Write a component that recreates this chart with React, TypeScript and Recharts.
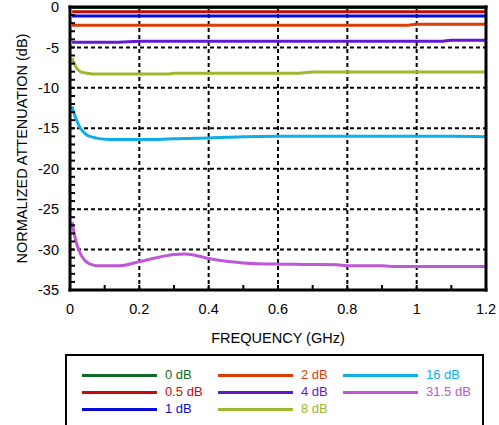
import React from "react";
import { LineChart, Line, XAxis, YAxis, CartesianGrid, Legend } from "recharts";

// frequency points (GHz) shared by every trace
const freqGHz = [
  0.006, 0.012, 0.02, 0.03, 0.04, 0.05, 0.065, 0.08, 0.1, 0.14, 0.2, 0.25, 0.28, 0.3, 0.33, 0.36,
  0.4, 0.45, 0.5, 0.6, 0.65, 0.7, 0.77, 0.8, 0.9, 0.94, 0.97, 1.0, 1.07, 1.1, 1.2,
];

// normalized attenuation (dB) per state
const att0dB = [
  -0.05, -0.05, -0.05, -0.05, -0.05, -0.05, -0.05, -0.05, -0.05, -0.05, -0.05, -0.05, -0.05, -0.05, -0.05, -0.05,
  -0.05, -0.05, -0.05, -0.05, -0.05, -0.05, -0.05, -0.05, -0.05, -0.05, -0.05, -0.05, -0.05, -0.05, -0.05,
];
const att05dB = [
  -0.6, -0.6, -0.6, -0.6, -0.6, -0.6, -0.6, -0.6, -0.6, -0.6, -0.6, -0.6, -0.6, -0.6, -0.6, -0.6,
  -0.6, -0.6, -0.6, -0.6, -0.6, -0.6, -0.6, -0.6, -0.6, -0.6, -0.6, -0.6, -0.6, -0.6, -0.6,
];
const att1dB = [
  -1.1, -1.1, -1.1, -1.1, -1.1, -1.1, -1.1, -1.1, -1.1, -1.1, -1.1, -1.1, -1.1, -1.1, -1.1, -1.1,
  -1.1, -1.1, -1.1, -1.1, -1.1, -1.1, -1.1, -1.1, -1.1, -1.1, -1.1, -1.1, -1.1, -1.1, -1.1,
];
const att2dB = [
  -2.25, -2.25, -2.25, -2.25, -2.25, -2.25, -2.25, -2.25, -2.25, -2.25, -2.25, -2.25, -2.25, -2.25, -2.25, -2.25,
  -2.25, -2.25, -2.25, -2.25, -2.25, -2.25, -2.25, -2.25, -2.25, -2.25, -2.25, -2.12, -2.12, -2.12, -2.12,
];
const att4dB = [
  -4.35, -4.35, -4.35, -4.35, -4.35, -4.35, -4.35, -4.35, -4.35, -4.35, -4.25, -4.25, -4.25, -4.25, -4.25, -4.25,
  -4.25, -4.25, -4.25, -4.25, -4.25, -4.25, -4.25, -4.25, -4.25, -4.25, -4.25, -4.25, -4.25, -4.12, -4.12,
];
const att8dB = [
  -6.3, -7.0, -7.6, -8.0, -8.12, -8.2, -8.28, -8.3, -8.3, -8.3, -8.3, -8.3, -8.3, -8.2, -8.2, -8.2,
  -8.2, -8.2, -8.2, -8.2, -8.2, -8.05, -8.05, -8.05, -8.05, -8.05, -8.05, -8.05, -8.05, -8.05, -8.05,
];
const att16dB = [
  -12.3, -13.2, -14.1, -15.0, -15.5, -15.85, -16.1, -16.25, -16.35, -16.4, -16.4, -16.38, -16.33, -16.3, -16.27, -16.23,
  -16.2, -16.12, -16.05, -16.0, -16.0, -16.0, -16.0, -16.0, -16.0, -16.0, -16.0, -16.0, -16.0, -16.0, -16.05,
];
const att315dB = [
  -26.6, -28.0, -29.4, -30.5, -31.2, -31.6, -31.9, -32.0, -32.0, -32.0, -31.5, -31.0, -30.75, -30.62, -30.55, -30.7,
  -31.1, -31.45, -31.65, -31.8, -31.82, -31.85, -31.88, -32.0, -32.0, -32.1, -32.1, -32.1, -32.1, -32.1, -32.1,
];

const seriesNames = ["0 dB", "0.5 dB", "1 dB", "2 dB", "4 dB", "8 dB", "16 dB", "31.5 dB"];
const seriesKeys = ["s0", "s05", "s1", "s2", "s4", "s8", "s16", "s315"];
const seriesColors = ["#0f6b24", "#c80a0a", "#0a0ad8", "#dc3c05", "#6418d2", "#9bb82e", "#0eaee6", "#c057d8"];
const seriesValues = [att0dB, att05dB, att1dB, att2dB, att4dB, att8dB, att16dB, att315dB];

const xMajorTicks = [0, 0.2, 0.4, 0.6, 0.8, 1, 1.2];
const xAllTicks = [0, 0.1, 0.2, 0.3, 0.4, 0.5, 0.6, 0.7, 0.8, 0.9, 1, 1.1, 1.2];
const yMajorTicks = [0, -5, -10, -15, -20, -25, -30, -35];
const yAllTicks = [
  0, -1, -2, -3, -4, -5, -6, -7, -8, -9, -10, -11, -12, -13, -14, -15, -16, -17, -18,
  -19, -20, -21, -22, -23, -24, -25, -26, -27, -28, -29, -30, -31, -32, -33, -34, -35,
];

const chartData = freqGHz.map((f, i) => {
  const row: { [k: string]: number } = { f };
  seriesKeys.forEach((k, j) => {
    row[k] = seriesValues[j][i];
  });
  return row;
});

const FONT = '"Liberation Sans", Arial, Helvetica, sans-serif';
const frame = { stroke: "#000", strokeWidth: 3, strokeLinecap: "square" as const };
const minorTick = { stroke: "#000", strokeWidth: 2 };

const isIn = (v: number, list: number[]) => list.some((m) => Math.abs(m - v) < 1e-6);

const LegendBox = () => {
  const lineLeft = [17, 153, 278];
  const textLeft = [100, 236, 361];
  const rowY = [21, 38, 55];
  return (
    <div
      style={{
        position: "relative",
        width: 419,
        height: 80,
        border: "2px solid #000",
        boxSizing: "border-box",
        background: "#fff",
        fontFamily: FONT,
      }}
    >
      {seriesNames.map((name, i) => {
        const col = Math.floor(i / 3);
        const row = i % 3;
        return (
          <React.Fragment key={name}>
            <div
              style={{
                position: "absolute",
                left: lineLeft[col] - 2,
                top: rowY[row] - 2 - 1.5,
                width: 75,
                height: 3,
                background: seriesColors[i],
              }}
            />
            <div
              style={{
                position: "absolute",
                left: textLeft[col] - 2,
                top: rowY[row] - 2 - 7,
                fontSize: 13,
                lineHeight: "14px",
                color: seriesColors[i],
                whiteSpace: "nowrap",
              }}
            >
              {name}
            </div>
          </React.Fragment>
        );
      })}
    </div>
  );
};

const YTitle = (props: any) => {
  const vb = props.viewBox || {};
  const cy = vb.height ? vb.y + vb.height / 2 : 148.5;
  return (
    <text
      x={22}
      y={cy}
      transform={`rotate(-90 22 ${cy})`}
      textAnchor="middle"
      dominantBaseline="central"
      fontSize={14.5}
      fontFamily={FONT}
      fill="#000"
    >
      NORMALIZED ATTENUATION (dB)
    </text>
  );
};

const XTitle = (props: any) => {
  const vb = props.viewBox || {};
  const cx = vb.width ? vb.x + vb.width / 2 : 278;
  return (
    <text x={cx} y={338} textAnchor="middle" dominantBaseline="central" fontSize={14.5} fontFamily={FONT} fill="#000">
      FREQUENCY (GHz)
    </text>
  );
};

export default function App() {
  return (
    <div style={{ position: "absolute", left: 0, top: 0, width: 499, height: 425, background: "#fff", overflow: "hidden" }}>
      <LineChart width={499} height={425} data={chartData} margin={{ top: 6, right: 12, bottom: 85, left: 0 }}>
        <CartesianGrid
          xAxisId="main"
          yAxisId="main"
          stroke="#000"
          strokeWidth={2}
          strokeDasharray="4 3"
          verticalValues={xMajorTicks}
          horizontalValues={yMajorTicks}
        />
        {seriesKeys.map((k, i) => (
          <Line
            key={k}
            xAxisId="main"
            yAxisId="main"
            type="monotone"
            dataKey={k}
            name={seriesNames[i]}
            stroke={seriesColors[i]}
            strokeWidth={3}
            dot={false}
            activeDot={false}
            isAnimationActive={false}
          />
        ))}
        <XAxis
          xAxisId="main"
          dataKey="f"
          type="number"
          domain={[0, 1.2]}
          allowDataOverflow
          ticks={xAllTicks}
          interval={0}
          height={50}
          tickSize={-5}
          tickMargin={19}
          tickLine={minorTick}
          axisLine={frame}
          tickFormatter={(v: number) => (isIn(v, xMajorTicks) ? String(v) : "")}
          tick={{ fill: "#000", fontSize: 14.5, fontFamily: FONT }}
          label={<XTitle />}
        />
        <XAxis
          xAxisId="top"
          orientation="top"
          dataKey="f"
          type="number"
          domain={[0, 1.2]}
          allowDataOverflow
          ticks={xAllTicks}
          interval={0}
          height={1}
          tickSize={-5}
          tick={false}
          tickLine={minorTick}
          axisLine={frame}
        />
        <YAxis
          yAxisId="main"
          type="number"
          domain={[-35, 0]}
          allowDataOverflow
          ticks={yAllTicks}
          interval={0}
          width={70}
          tickSize={-5}
          tickMargin={16}
          tickLine={minorTick}
          axisLine={frame}
          tickFormatter={(v: number) => (isIn(v, yMajorTicks) ? String(v) : "")}
          tick={{ fill: "#000", fontSize: 14.5, fontFamily: FONT }}
          label={<YTitle />}
        />
        <YAxis
          yAxisId="right"
          orientation="right"
          type="number"
          domain={[-35, 0]}
          allowDataOverflow
          ticks={yAllTicks}
          interval={0}
          width={1}
          tickSize={-5}
          tick={false}
          tickLine={minorTick}
          axisLine={frame}
        />
        <Legend
          layout="horizontal"
          verticalAlign="middle"
          align="center"
          content={() => <LegendBox />}
          wrapperStyle={{ position: "absolute", left: 65, top: 354, width: 419, height: 80 }}
        />
      </LineChart>
    </div>
  );
}
